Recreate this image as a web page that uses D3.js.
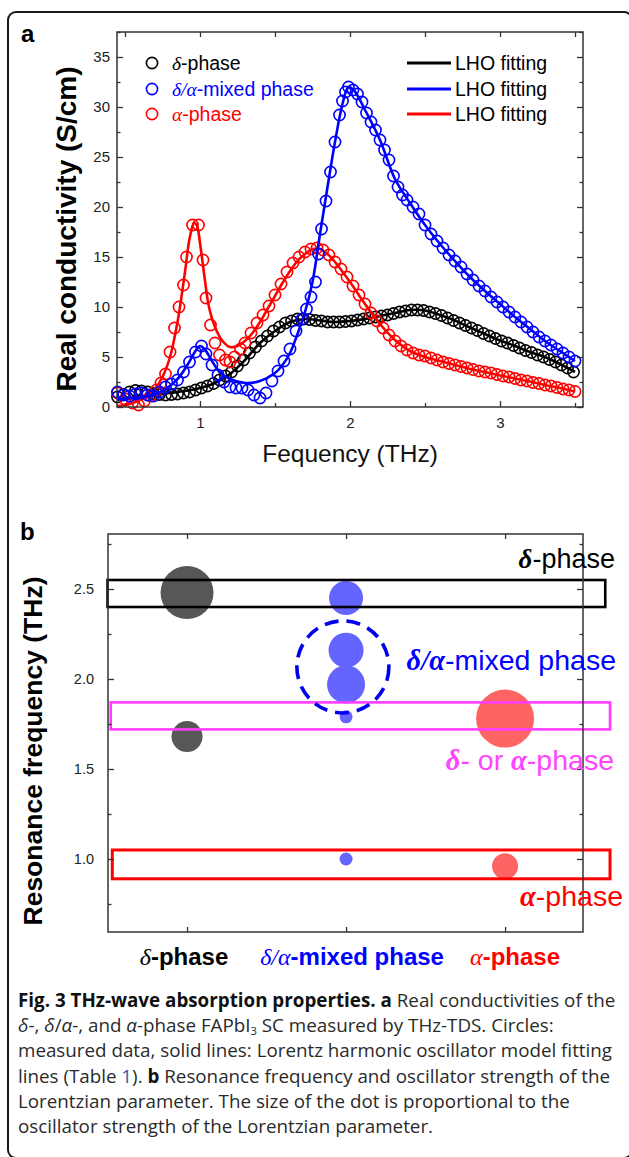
<!DOCTYPE html>
<html>
<head>
<meta charset="utf-8">
<script src="https://cdn.jsdelivr.net/npm/d3@7/dist/d3.min.js"></script>
<style>
  body { margin: 0; background: #fff; }
  svg { display: block; }
</style>
</head>
<body>
<div id="chart"></div>
<script>
// ---- panel a: real conductivity (S/cm) vs frequency (THz) ----
var deltaFreq = [0.45,0.49,0.53,0.57,0.61,0.65,0.69,0.73,0.77,0.81,0.85,0.89,0.93,0.97,1.01,1.05,1.09,1.13,1.17,1.21,
  1.25,1.29,1.33,1.37,1.41,1.45,1.49,1.53,1.57,1.61,1.65,1.69,1.73,1.77,1.81,1.85,1.89,1.93,1.97,2.01,
  2.05,2.09,2.13,2.17,2.21,2.25,2.29,2.33,2.37,2.41,2.45,2.49,2.53,2.57,2.61,2.65,2.69,2.73,2.77,2.81,
  2.85,2.89,2.93,2.97,3.01,3.05,3.09,3.13,3.17,3.21,3.25,3.29,3.33,3.37,3.41,3.45,3.49];
var deltaSigma = [1.0,1.25,1.5,1.65,1.6,1.5,1.35,1.25,1.2,1.25,1.3,1.4,1.5,1.7,1.9,2.1,2.35,2.7,3.1,3.5,
  4.1,4.7,5.4,6.0,6.6,7.1,7.6,8.0,8.4,8.6,8.8,8.8,8.75,8.65,8.6,8.5,8.5,8.5,8.55,8.6,
  8.7,8.8,8.9,9.0,9.1,9.2,9.35,9.5,9.6,9.7,9.7,9.65,9.5,9.35,9.15,8.9,8.65,8.4,8.15,7.9,
  7.65,7.35,7.1,6.85,6.6,6.4,6.15,5.9,5.65,5.45,5.2,5.0,4.75,4.5,4.2,3.9,3.5];

var mixedFreq = [0.45,0.49,0.53,0.57,0.61,0.65,0.69,0.73,0.77,0.81,0.85,0.89,0.93,0.97,1.01,1.04,1.08,1.12,1.16,1.20,
  1.24,1.28,1.32,1.36,1.40,1.44,1.48,1.52,1.56,1.60,1.64,1.68,1.71,1.74,1.77,1.79,1.81,1.84,1.87,1.90,
  1.93,1.95,1.97,1.99,2.02,2.05,2.08,2.11,2.14,2.17,2.20,2.23,2.26,2.29,2.32,2.35,2.38,2.42,2.46,2.50,
  2.54,2.58,2.62,2.66,2.70,2.74,2.78,2.82,2.86,2.90,2.94,2.98,3.02,3.06,3.10,3.14,3.18,3.22,3.26,3.30,
  3.34,3.38,3.42,3.46,3.50];
var mixedSigma = [1.5,1.2,1.1,1.3,1.4,1.2,1.1,1.5,2.0,2.3,2.7,3.5,4.5,5.5,6.1,5.3,4.2,3.2,2.5,2.0,
  1.9,1.9,1.7,1.2,0.9,1.4,2.6,3.6,4.6,5.8,7.6,8.8,9.8,11.0,12.5,15.3,17.8,20.6,23.5,26.5,
  29.2,30.6,31.5,32.0,31.7,31.3,30.5,29.4,28.5,27.7,26.7,25.7,24.7,23.1,22.0,21.2,20.7,20.0,19.3,18.2,
  17.3,16.6,15.9,15.2,14.6,14.0,13.3,12.7,12.1,11.6,11.0,10.5,10.0,9.5,9.0,8.5,8.0,7.5,7.0,6.6,
  6.2,5.8,5.4,5.0,4.6];

var alphaFreq = [0.45,0.50,0.55,0.59,0.63,0.67,0.71,0.74,0.77,0.80,0.83,0.86,0.89,0.91,0.95,0.99,1.02,1.04,1.07,1.10,
  1.13,1.17,1.20,1.23,1.27,1.30,1.34,1.38,1.42,1.46,1.50,1.54,1.58,1.62,1.66,1.70,1.74,1.78,1.82,1.86,
  1.90,1.94,1.98,2.02,2.06,2.10,2.14,2.18,2.22,2.26,2.30,2.34,2.38,2.42,2.46,2.50,2.54,2.58,2.62,2.66,
  2.70,2.74,2.78,2.82,2.86,2.90,2.94,2.98,3.02,3.06,3.10,3.14,3.18,3.22,3.26,3.30,3.34,3.38,3.42,3.46,3.50];
var alphaSigma = [1.4,0.8,0.4,0.2,0.6,1.1,1.7,2.4,3.3,5.5,7.9,10.0,12.2,15.0,18.2,18.2,14.7,10.9,8.2,6.4,
  5.2,4.7,4.5,5.0,5.8,6.4,7.4,8.4,9.2,10.1,11.2,12.3,13.5,14.4,15.0,15.5,15.8,15.9,15.7,15.2,
  14.5,13.8,13.0,12.1,11.2,10.3,9.4,8.6,7.9,7.2,6.6,6.1,5.7,5.4,5.2,5.1,4.9,4.7,4.5,4.35,
  4.2,4.05,3.9,3.75,3.6,3.5,3.4,3.25,3.1,3.0,2.85,2.7,2.6,2.45,2.35,2.2,2.1,1.95,1.8,1.7,1.55];

// LHO fitting lines
var deltaFitFreq = [0.45,0.5,0.6,0.7,0.8,0.9,1.0,1.1,1.2,1.3,1.4,1.5,1.6,1.7,1.8,1.9,2.0,2.1,2.2,2.3,2.4,2.5,2.6,2.7,2.8,2.9,3.0,3.1,3.2,3.3,3.4,3.5];
var deltaFitSigma = [0.7,0.8,1.0,1.2,1.4,1.6,1.9,2.4,3.3,4.7,6.4,7.6,8.5,8.8,8.65,8.5,8.6,8.8,9.1,9.4,9.7,9.65,9.2,8.65,7.95,7.3,6.65,6.1,5.5,5.0,4.3,3.5];
var mixedFitFreq = [0.45,0.55,0.65,0.75,0.85,0.92,0.97,1.00,1.03,1.08,1.13,1.20,1.30,1.40,1.50,1.55,1.60,1.65,1.70,1.75,
  1.80,1.85,1.90,1.95,1.99,2.03,2.10,2.20,2.30,2.40,2.50,2.60,2.70,2.80,2.90,3.00,3.10,3.20,3.30,3.40,3.50];
var mixedFitSigma = [0.8,0.9,1.1,1.6,2.8,4.3,5.6,6.1,5.8,4.6,3.5,2.8,2.4,2.6,3.4,4.2,5.4,7.3,9.5,12.5,
  17.3,22.0,26.5,30.3,32.0,31.6,29.7,26.7,22.8,20.4,18.2,16.3,14.6,13.0,11.6,10.3,9.0,7.8,6.6,5.6,4.6];
var alphaFitFreq = [0.45,0.50,0.55,0.60,0.65,0.70,0.75,0.80,0.85,0.90,0.93,0.96,0.98,1.00,1.03,1.06,1.10,1.15,1.20,1.25,
  1.30,1.35,1.40,1.45,1.50,1.55,1.60,1.65,1.70,1.75,1.80,1.85,1.90,2.00,2.10,2.20,2.30,2.40,2.50,2.60,
  2.70,2.80,2.90,3.00,3.10,3.20,3.30,3.40,3.50];
var alphaFitSigma = [0.1,0.2,0.4,0.7,1.1,1.8,3.0,5.0,8.5,13.5,16.8,18.4,18.1,16.4,13.0,10.0,8.0,6.6,6.0,6.1,
  6.6,7.4,8.5,9.8,11.1,12.4,13.6,14.6,15.3,15.8,15.8,15.3,14.5,12.5,10.3,8.3,6.7,5.6,5.0,4.6,
  4.2,3.8,3.5,3.15,2.85,2.55,2.2,1.9,1.55];

var phaseNames = ["δ-phase", "δ/α-mixed phase", "α-phase"];
var phaseColors = ["#000000", "#0000ff", "#ff0000"];
var fitLabel = "LHO fitting";
var aTicks = [0, 5, 10, 15, 20, 25, 30, 35];
var aFreqTicks = [1, 2, 3];

// ---- panel b: resonance frequency (THz) and oscillator strength ----
var bubblePhase = [1, 1, 2, 2, 2, 2, 2, 3, 3];
var bubbleFreq = [2.48, 1.68, 2.45, 2.16, 1.97, 1.79, 1.00, 1.78, 0.96];
var bubbleStrength = [26.5, 15.5, 17, 17.5, 19, 6.5, 6.5, 29, 13];
var bubbleColors = ["#575757", "#6464ff", "#ff6464"];
var bandLow = [2.40, 1.72, 0.89];
var bandHigh = [2.55, 1.87, 1.05];
var bandStart = [0.50, 0.52, 0.53];
var bandEnd = [3.63, 3.66, 3.66];
var bandColors = ["#000000", "#ff3cff", "#ff0000"];
var noteLabels = ["δ-phase", "δ/α-mixed phase", "δ- or α-phase", "α-phase"];
var noteColors = ["#000000", "#0000ff", "#ff44ff", "#ff0000"];
var mixedGroupCenter = [1.98, 2.067];
var bTicks = [1.0, 1.5, 2.0, 2.5];
var bMinor = [0.75, 1.25, 1.75, 2.25, 2.75];

var SANS = "'Liberation Sans', Arial, sans-serif",
    SERIF = "'Liberation Serif', 'Times New Roman', serif",
    CAPF = "'Open Sans', 'Noto Sans', sans-serif";

var svg = d3.select("#chart").append("svg")
    .attr("width", 629).attr("height", 1157)
    .style("font-family", SANS);

// rounded frame round the whole figure
svg.append("rect").attr("x", 8).attr("y", 12).attr("width", 624).attr("height", 1146).attr("rx", 8)
    .attr("fill", "none").attr("stroke", "#1a1a1a").attr("stroke-width", 2);

// split greek parts out into italic serif tspans
function rich(sel, str, weight, greekWeight) {
  str.split(/([δα](?:\/[δα])?)/).filter(function(s){ return s.length; }).forEach(function(p) {
    var t = sel.append("tspan").text(p).style("font-weight", weight);
    if (/^[δα]/.test(p)) t.style("font-family", SERIF).style("font-style", "italic").style("font-weight", greekWeight);
  });
}

function styleAxis(g, fs) {
  g.select(".domain").remove();
  g.selectAll("line").attr("stroke", "#333").attr("stroke-width", 1.3);
  g.selectAll("text").attr("fill", "#222").style("font-family", SANS).style("font-size", fs + "px");
}

// ================= panel a =================
var ax = d3.scaleLinear().domain([0.4467, 3.5533]).range([117, 583]);
var ay = d3.scaleLinear().domain([0, 37.5]).range([407, 32]);
var ga = svg.append("g");

var seriesA = [
  {i: 0, pts: d3.zip(deltaFreq, deltaSigma), fit: d3.zip(deltaFitFreq, deltaFitSigma)},
  {i: 1, pts: d3.zip(mixedFreq, mixedSigma), fit: d3.zip(mixedFitFreq, mixedFitSigma)},
  {i: 2, pts: d3.zip(alphaFreq, alphaSigma), fit: d3.zip(alphaFitFreq, alphaFitSigma)}
];
var line = d3.line().x(function(d){ return ax(d[0]); }).y(function(d){ return ay(d[1]); })
    .curve(d3.curveCatmullRom.alpha(0.5));

[0, 2, 1].forEach(function(k) {
  var s = seriesA[k];
  ga.append("g").selectAll("circle").data(s.pts).join("circle")
      .attr("cx", function(d){ return ax(d[0]); })
      .attr("cy", function(d){ return ay(d[1]); })
      .attr("r", 5.6)
      .attr("fill", "none").attr("stroke", phaseColors[s.i]).attr("stroke-width", 1.6);
  ga.append("path").datum(s.fit).attr("d", line)
      .attr("fill", "none").attr("stroke", phaseColors[s.i]).attr("stroke-width", 2.6);
});

// axes, all ticks inward
ga.append("g").attr("transform", "translate(117,0)")
    .call(d3.axisLeft(ay).tickValues(aTicks).tickSize(-6).tickPadding(7).tickFormat(d3.format("d")))
    .call(styleAxis, 15);
ga.append("g").attr("transform", "translate(117,0)")
    .call(d3.axisLeft(ay).tickValues(aTicks.map(function(v){ return v + 2.5; })).tickSize(-3.5).tickFormat(""))
    .call(styleAxis, 15);
ga.append("g").attr("transform", "translate(583,0)")
    .call(d3.axisRight(ay).tickValues(aTicks).tickSize(-6).tickFormat(""))
    .call(styleAxis, 15);
ga.append("g").attr("transform", "translate(583,0)")
    .call(d3.axisRight(ay).tickValues(aTicks.map(function(v){ return v + 2.5; })).tickSize(-3.5).tickFormat(""))
    .call(styleAxis, 15);
ga.append("g").attr("transform", "translate(0,407)")
    .call(d3.axisBottom(ax).tickValues(aFreqTicks).tickSize(-6).tickPadding(10).tickFormat(d3.format("d")))
    .call(styleAxis, 15);
ga.append("g").attr("transform", "translate(0,407)")
    .call(d3.axisBottom(ax).tickValues(aFreqTicks.map(function(v){ return v + 0.5; }).concat([0.5])).tickSize(-4).tickFormat(""))
    .call(styleAxis, 15);
ga.append("g").attr("transform", "translate(0,32)")
    .call(d3.axisTop(ax).tickValues([0.5, 1, 1.5, 2, 2.5, 3, 3.5]).tickSize(-5).tickFormat(""))
    .call(styleAxis, 15);
ga.append("rect").attr("x", 117).attr("y", 32).attr("width", 466).attr("height", 375)
    .attr("fill", "none").attr("stroke", "#333").attr("stroke-width", 1.5);

// legend: measured circles on the left, fitting lines on the right
var legY = [63, 89, 114];
phaseNames.forEach(function(n, i) {
  ga.append("circle").attr("cx", 152).attr("cy", legY[i]).attr("r", 5.6)
      .attr("fill", "none").attr("stroke", phaseColors[i]).attr("stroke-width", 1.6);
  var t = ga.append("text").attr("x", 172).attr("y", legY[i] + 7)
      .attr("fill", phaseColors[i]).style("font-size", "19.5px");
  rich(t, n, "normal", "normal");
  ga.append("line").attr("x1", 407).attr("x2", 451).attr("y1", legY[i]).attr("y2", legY[i])
      .attr("stroke", phaseColors[i]).attr("stroke-width", 3);
  ga.append("text").attr("x", 455).attr("y", legY[i] + 7).attr("fill", "#000")
      .style("font-size", "19.5px").text(fitLabel);
});

ga.append("text").attr("transform", "translate(76,229) rotate(-90)")
    .attr("text-anchor", "middle").style("font-size", "28px").style("font-weight", "bold")
    .text("Real conductivity (S/cm)");
ga.append("text").attr("x", 350).attr("y", 462).attr("text-anchor", "middle")
    .style("font-size", "24.5px").attr("fill", "#111").text("Fequency (THz)");
svg.append("text").attr("x", 21).attr("y", 42).style("font-size", "24px").style("font-weight", "bold").text("a");

// ================= panel b =================
var bx = d3.scaleLinear().domain([0.503, 3.49]).range([108, 583]);
var by = d3.scaleLinear().domain([0.5944, 2.8056]).range([932, 534]);
var br = d3.scaleLinear().domain([0, 30]).range([0, 30]);
var gb = svg.append("g");

gb.append("g").selectAll("circle").data(d3.range(bubbleFreq.length)).join("circle")
    .attr("cx", function(i){ return bx(bubblePhase[i]); })
    .attr("cy", function(i){ return by(bubbleFreq[i]); })
    .attr("r", function(i){ return br(bubbleStrength[i]); })
    .attr("fill", function(i){ return bubbleColors[bubblePhase[i] - 1]; });

gb.append("g").selectAll("rect").data(d3.range(bandLow.length)).join("rect")
    .attr("x", function(i){ return bx(bandStart[i]); })
    .attr("width", function(i){ return bx(bandEnd[i]) - bx(bandStart[i]); })
    .attr("y", function(i){ return by(bandHigh[i]); })
    .attr("height", function(i){ return by(bandLow[i]) - by(bandHigh[i]); })
    .attr("fill", "none").attr("stroke", function(i){ return bandColors[i]; })
    .attr("stroke-width", function(i){ return i === 2 ? 3 : 2.6; });

gb.append("circle").attr("cx", bx(mixedGroupCenter[0])).attr("cy", by(mixedGroupCenter[1])).attr("r", 46)
    .attr("fill", "none").attr("stroke", "#0000ee").attr("stroke-width", 3.6)
    .attr("stroke-dasharray", "14 8");

gb.append("g").attr("transform", "translate(108,0)")
    .call(d3.axisLeft(by).tickValues(bTicks).tickSize(-6).tickPadding(14).tickFormat(d3.format(".1f")))
    .call(styleAxis, 14.5);
gb.append("g").attr("transform", "translate(108,0)")
    .call(d3.axisLeft(by).tickValues(bMinor).tickSize(-3.5).tickFormat(""))
    .call(styleAxis, 14.5);
gb.append("g").attr("transform", "translate(583,0)")
    .call(d3.axisRight(by).tickValues(bTicks).tickSize(-6).tickFormat(""))
    .call(styleAxis, 14.5);
gb.append("g").attr("transform", "translate(583,0)")
    .call(d3.axisRight(by).tickValues(bMinor).tickSize(-3.5).tickFormat(""))
    .call(styleAxis, 14.5);
gb.append("g").attr("transform", "translate(0,932)")
    .call(d3.axisBottom(bx).tickValues([1, 2, 3]).tickSize(-5).tickFormat(""))
    .call(styleAxis, 14.5);
gb.append("g").attr("transform", "translate(0,534)")
    .call(d3.axisTop(bx).tickValues([1, 2, 3]).tickSize(-5).tickFormat(""))
    .call(styleAxis, 14.5);
gb.append("rect").attr("x", 108).attr("y", 534).attr("width", 475).attr("height", 398)
    .attr("fill", "none").attr("stroke", "#333").attr("stroke-width", 1.5);

// category labels under the axis
var catDx = [-3, 6, 10];
phaseNames.forEach(function(n, i) {
  var t = gb.append("text").attr("x", bx(i + 1) + catDx[i]).attr("y", 965)
      .attr("text-anchor", "middle").attr("fill", phaseColors[i]).style("font-size", "24px");
  rich(t, n, "bold", "normal");
});

// notes beside the bands
var noteX = [615, 616, 614, 623], noteY = [568, 670, 770, 906], noteSize = [27, 28.5, 28.5, 28.5];
noteLabels.forEach(function(n, i) {
  var t = gb.append("text").attr("x", noteX[i]).attr("y", noteY[i]).attr("text-anchor", "end")
      .attr("fill", noteColors[i]).style("font-size", noteSize[i] + "px");
  rich(t, n, "normal", "bold");
});

gb.append("text").attr("transform", "translate(42,751) rotate(-90)")
    .attr("text-anchor", "middle").style("font-size", "26.5px").style("font-weight", "bold")
    .text("Resonance frequency (THz)");
svg.append("text").attr("x", 20).attr("y", 540).style("font-size", "24px").style("font-weight", "bold").text("b");

// ================= caption =================
var capLines = [
  [["Fig. 3 THz-wave absorption properties.", "b"], [" ", ""], ["a", "b"], [" Real conductivities of the", ""]],
  [["δ", "i"], ["-, ", ""], ["δ", "i"], ["/", ""], ["α", "i"], ["-, and ", ""], ["α", "i"], ["-phase FAPbI", ""], ["3", "sub"], [" SC measured by THz-TDS. Circles:", ""]],
  [["measured data, solid lines: Lorentz harmonic oscillator model fitting", ""]],
  [["lines (Table ", ""], ["1", "link"], ["). ", ""], ["b", "b"], [" Resonance frequency and oscillator strength of the", ""]],
  [["Lorentzian parameter. The size of the dot is proportional to the", ""]],
  [["oscillator strength of the Lorentzian parameter.", ""]]
];
var cap = svg.append("g").style("font-family", CAPF).style("font-size", "17px").attr("fill", "#2a2a2a");
var capTexts = [];
capLines.forEach(function(segs, li) {
  var t = cap.append("text").attr("x", 18).attr("y", 1007 + li * 25.2);
  var shifted = false;
  segs.forEach(function(s) {
    var ts = t.append("tspan").text(s[0]);
    if (shifted) { ts.attr("dy", -2.5); shifted = false; }
    if (s[1] === "b") ts.style("font-weight", "bold").attr("fill", "#111");
    if (s[1] === "i") ts.style("font-style", "italic");
    if (s[1] === "link") ts.attr("fill", "#2a5db0");
    if (s[1] === "sub") { ts.attr("dy", 2.5).style("font-size", "0.6em"); shifted = true; }
  });
  capTexts.push(t);
});
// scale the caption font so the first line spans the same width as in the figure
var w0 = capTexts[0].node().getComputedTextLength();
if (w0 > 0) cap.style("font-size", (17 * 598 / w0).toFixed(2) + "px");
</script>
</body>
</html>
